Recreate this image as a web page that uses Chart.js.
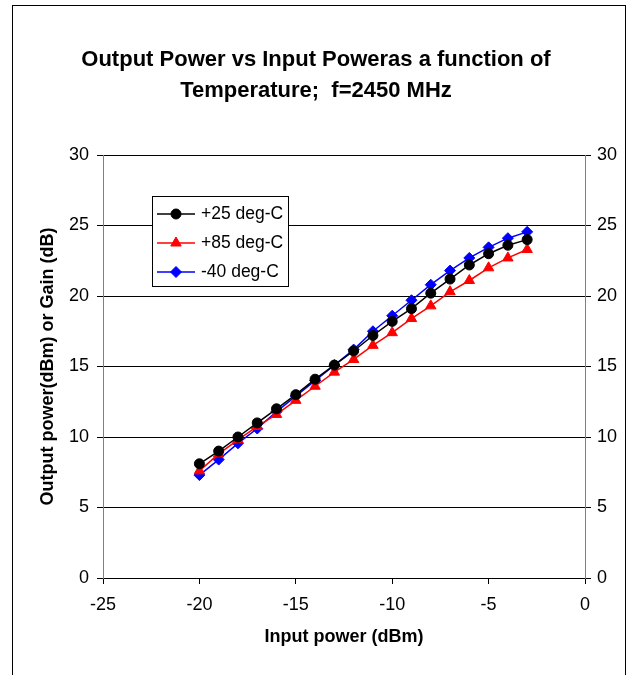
<!DOCTYPE html>
<html><head><meta charset="utf-8">
<script src="https://cdn.jsdelivr.net/npm/chart.js@4.4.0/dist/chart.umd.min.js"></script>
<style>
html,body{margin:0;padding:0;background:#fff;}
#wrap{position:relative;width:632px;height:675px;overflow:hidden;}
#frame{position:absolute;left:12px;top:5px;width:614px;height:720px;border:1px solid #000;box-sizing:border-box;}
canvas{position:absolute;left:0;top:0;}
</style></head><body>
<div id="wrap"><div id="frame"></div><canvas id="c" width="632" height="675"></canvas></div>
<script>
const inputPower = [-20,-19,-18,-17,-16,-15,-14,-13,-12,-11,-10,-9,-8,-7,-6,-5,-4,-3];
const temp25  = [8.1,9.0,10.0,11.0,12.0,13.0,14.1,15.1,16.1,17.2,18.2,19.1,20.2,21.2,22.2,23.0,23.6,24.0];
const temp85  = [7.6,8.8,9.8,10.75,11.6,12.6,13.6,14.6,15.5,16.5,17.4,18.4,19.3,20.3,21.1,22.0,22.7,23.3];
const tempM40 = [7.3,8.4,9.55,10.6,11.8,12.9,14.0,15.1,16.2,17.5,18.6,19.7,20.8,21.8,22.7,23.45,24.1,24.55];
const seriesLabels = ['+25 deg-C','+85 deg-C','-40 deg-C'];
const titleLines = ['Output Power vs Input Poweras a function of','Temperature;  f=2450 MHz'];
const xTitle = 'Input power (dBm)';
const yTitle = 'Output power(dBm) or Gain (dB)';
const xMin = -25, xMax = 0, xStep = 5;
const yMin = 0, yMax = 30, yStep = 5;

const FONT = "'Liberation Sans', Arial, sans-serif";
const toPts = arr => arr.map((v,i)=>({x: inputPower[i], y: v}));

const boxLegend = {
  id: 'boxLegend',
  afterDraw(chart){
    const ctx = chart.ctx;
    const x0 = 152.5, y0 = 196.5, w = 136, h = 90;
    ctx.save();
    ctx.fillStyle = '#fff'; ctx.fillRect(x0,y0,w,h);
    ctx.strokeStyle = '#000'; ctx.lineWidth = 1; ctx.strokeRect(x0,y0,w,h);
    chart.data.datasets.forEach((ds,i)=>{
      const y = 214 + i*29;
      ctx.strokeStyle = ds.borderColor; ctx.lineWidth = ds.borderWidth;
      ctx.beginPath(); ctx.moveTo(157,y); ctx.lineTo(195,y); ctx.stroke();
      ctx.fillStyle = ds.pointBackgroundColor; ctx.strokeStyle = ds.pointBorderColor; ctx.lineWidth = 1;
      Chart.helpers.drawPoint(ctx,{pointStyle: ds.pointStyle, radius: ds.pointRadius, rotation: 0, borderWidth: 1},176,y);
      ctx.fillStyle = '#000'; ctx.font = '17.5px ' + FONT; ctx.textBaseline = 'middle'; ctx.textAlign = 'left';
      ctx.fillText(ds.label, 201, y);
    });
    ctx.restore();
  }
};

const mk = (label, data, color, style, r) => ({
  label, data: toPts(data), borderColor: color, backgroundColor: color,
  pointBackgroundColor: color, pointBorderColor: color, pointStyle: style,
  pointRadius: r, pointBorderWidth: 1, borderWidth: 1.5, tension: 0,
  xAxisID: 'x', yAxisID: 'y'
});

new Chart(document.getElementById('c'), {
  type: 'line',
  data: { datasets: [
    mk(seriesLabels[0], temp25, '#000000', 'circle', 5),
    mk(seriesLabels[1], temp85, '#ff0000', 'triangle', 6),
    mk(seriesLabels[2], tempM40, '#0000ff', 'rectRot', 5.5)
  ]},
  options: {
    responsive: false, animation: false, devicePixelRatio: 1,
    layout: { padding: 0 },
    plugins: {
      legend: { display: false },
      tooltip: { enabled: false },
      title: { display: true, text: titleLines, color: '#000',
        font: { family: FONT, size: 22, weight: 'bold', lineHeight: 31/22 },
        padding: { top: 44, bottom: 49 } }
    },
    scales: {
      x: { type: 'linear', position: 'bottom', min: xMin, max: xMax,
        ticks: { stepSize: xStep, color: '#000', font: { family: FONT, size: 18 }, padding: 10, maxRotation: 0 },
        grid: { drawOnChartArea: false, color: '#000', tickLength: 6 },
        border: { color: '#000', width: 1 },
        title: { display: true, text: xTitle, color: '#000', font: { family: FONT, size: 18, weight: 'bold' }, padding: { top: 0, bottom: 27 } },
        afterFit: s => { s.height = 97; } },
      y: { type: 'linear', position: 'left', min: yMin, max: yMax,
        ticks: { stepSize: yStep, color: '#000', font: { family: FONT, size: 18 }, padding: 8 },
        grid: { color: '#000', tickLength: 6 },
        border: { color: '#808080', width: 1 },
        title: { display: true, text: yTitle, color: '#000', font: { family: FONT, size: 18, weight: 'bold' }, padding: { top: 37, bottom: 0 } },
        afterFit: s => { s.width = 103; } },
      y2: { type: 'linear', position: 'right', min: yMin, max: yMax,
        ticks: { stepSize: yStep, color: '#000', font: { family: FONT, size: 18 }, padding: 6 },
        grid: { drawOnChartArea: false, color: '#000', tickLength: 6 },
        border: { color: '#808080', width: 1 },
        afterFit: s => { s.width = 47; } }
    }
  },
  plugins: [boxLegend]
});
</script>
</body></html>
